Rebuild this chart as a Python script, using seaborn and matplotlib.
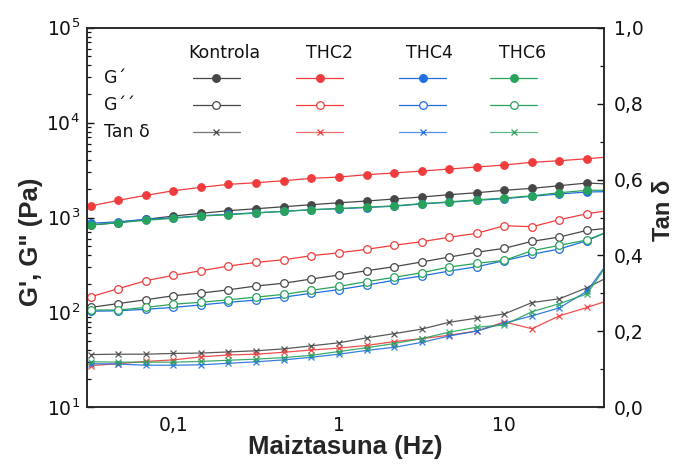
import numpy as np
import pandas as pd
import seaborn as sns
import matplotlib
matplotlib.use("Agg")
import matplotlib.pyplot as plt
from matplotlib.ticker import FixedLocator, FuncFormatter, LogLocator, MultipleLocator, NullFormatter

# Frequency sweep (Hz), six points per decade
freq = [0.0316, 0.0464, 0.0681, 0.1, 0.147, 0.215, 0.316, 0.464, 0.681, 1.0,
        1.47, 2.15, 3.16, 4.64, 6.81, 10.0, 14.7, 21.5, 31.6, 46.4]

samples = ["Kontrola", "THC2", "THC4", "THC6"]
colors = ["#474747", "#f03c3c", "#1f6fe0", "#27a35c"]

# Storage modulus G' (Pa)
g1_kontrola = [834, 882, 957, 1037, 1107, 1180, 1238, 1300, 1365, 1430,
               1492, 1567, 1645, 1739, 1825, 1935, 2031, 2164, 2310, 2240]
g1_thc2 = [1321, 1518, 1713, 1916, 2080, 2237, 2326, 2443, 2589, 2670,
           2828, 2944, 3090, 3244, 3406, 3575, 3818, 3968, 4167, 4400]
g1_thc4 = [869, 903, 957, 995, 1045, 1081, 1124, 1162, 1208, 1238,
           1275, 1315, 1390, 1448, 1518, 1582, 1675, 1770, 1858, 1880]
g1_thc6 = [834, 882, 935, 981, 1037, 1071, 1115, 1162, 1208, 1245,
           1285, 1327, 1402, 1462, 1536, 1602, 1695, 1825, 1935, 1940]

# Loss modulus G'' (Pa)
g2_kontrola = [113, 124, 136, 150, 160, 173, 190, 203, 225, 248,
               275, 303, 340, 383, 430, 474, 561, 623, 733, 782]
g2_thc2 = [146, 178, 216, 246, 275, 308, 337, 359, 396, 425,
           462, 510, 556, 619, 682, 820, 800, 948, 1097, 1210]
g2_thc4 = [103, 104, 108, 113, 120, 128, 135, 145, 159, 174,
           194, 218, 242, 273, 303, 351, 410, 466, 570, 760]
g2_thc6 = [106, 106, 113, 122, 128, 136, 145, 155, 171, 188,
           211, 234, 262, 301, 329, 354, 447, 509, 580, 760]

# Loss tangent
tan_kontrola = [0.139, 0.140, 0.140, 0.142, 0.143, 0.146, 0.149, 0.154, 0.162, 0.170,
                0.183, 0.194, 0.206, 0.224, 0.235, 0.246, 0.276, 0.286, 0.315, 0.352]
tan_thc2 = [0.110, 0.115, 0.121, 0.125, 0.133, 0.138, 0.140, 0.145, 0.151, 0.156,
            0.163, 0.173, 0.181, 0.190, 0.201, 0.225, 0.207, 0.241, 0.263, 0.287]
tan_thc4 = [0.115, 0.114, 0.111, 0.111, 0.112, 0.116, 0.120, 0.125, 0.132, 0.140,
            0.150, 0.158, 0.171, 0.188, 0.201, 0.222, 0.241, 0.262, 0.306, 0.406]
tan_thc6 = [0.120, 0.119, 0.119, 0.119, 0.121, 0.124, 0.127, 0.131, 0.137, 0.147,
            0.157, 0.168, 0.181, 0.198, 0.211, 0.217, 0.252, 0.273, 0.299, 0.404]

g1 = [g1_kontrola, g1_thc2, g1_thc4, g1_thc6]
g2 = [g2_kontrola, g2_thc2, g2_thc4, g2_thc6]
tan = [tan_kontrola, tan_thc2, tan_thc4, tan_thc6]

sns.set_style("white")
plt.rcParams["font.family"] = ["DejaVu Sans"]
plt.rcParams["axes.linewidth"] = 1.1

fig = plt.figure(figsize=(6.79, 4.65), dpi=100)
ax = fig.add_axes([0.128, 0.124, 0.7615, 0.8164])
ax2 = ax.twinx()

lw = 0.9
for name, c, a, b in zip(samples, colors, g1, g2):
    sns.lineplot(x=freq, y=a, ax=ax, color=c, lw=lw, marker="o", ms=5.5,
                 mec=c, mfc=c, mew=0.8, estimator=None, sort=False)
    sns.lineplot(x=freq, y=b, ax=ax, color=c, lw=lw, marker="o", ms=5.5,
                 mec=c, mfc="white", mew=0.9, estimator=None, sort=False)
for name, c, t in zip(samples, colors, tan):
    sns.lineplot(x=freq, y=t, ax=ax2, color=c, lw=lw, marker="x", ms=5,
                 mec=c, mew=0.9, alpha=0.9, estimator=None, sort=False)

ax.set_xscale("log")
ax.set_yscale("log")
ax.set_xlim(0.03, 40)
ax.set_ylim(10, 1e5)
ax2.set_ylim(0, 1.0)

comma = lambda v, pos: f"{v:g}".replace(".", ",")
ax.xaxis.set_major_locator(FixedLocator([0.1, 1, 10]))
ax.xaxis.set_major_formatter(FuncFormatter(comma))
ax.xaxis.set_minor_locator(LogLocator(base=10, subs=np.arange(2, 10)))
ax.xaxis.set_minor_formatter(NullFormatter())
ax.yaxis.set_major_locator(LogLocator(base=10, numticks=10))
ax.yaxis.set_minor_locator(LogLocator(base=10, subs=np.arange(2, 10), numticks=20))
ax.yaxis.set_minor_formatter(NullFormatter())

ax2.yaxis.set_major_locator(MultipleLocator(0.2))
ax2.yaxis.set_minor_locator(MultipleLocator(0.1))
ax2.yaxis.set_major_formatter(FuncFormatter(lambda v, pos: f"{v:.1f}".replace(".", ",")))

for a in (ax, ax2):
    a.tick_params(which="both", direction="in", labelsize=13.5, colors="#111111")
    a.tick_params(which="major", length=5, width=1.0)
    a.tick_params(which="minor", length=3, width=0.9)
ax.tick_params(axis="x", which="both", top=False, pad=6)
ax.tick_params(axis="y", which="both", right=False, pad=5)
ax2.tick_params(axis="y", which="both", left=False, right=True, pad=7)
for sp in ax2.spines.values():
    sp.set_linewidth(1.1)

label_font = dict(family="Liberation Sans", weight="bold", size=18.5)
ax.set_xlabel("Maiztasuna (Hz)", **label_font, labelpad=0)
ax.set_ylabel("G', G\" (Pa)", **label_font)
ax.yaxis.set_label_coords(-0.084, 0.437)
ax2.set_ylabel("Tan δ", family="Liberation Sans", weight="bold", size=17)
ax2.yaxis.set_label_coords(1.093, 0.52)

# Table-style legend inside the plot
key_x = [0.2503, 0.4507, 0.6499, 0.8259]
head_x = [0.265, 0.470, 0.663, 0.843]
row_y = [0.867, 0.797, 0.726]
half = 0.0455
for name, c, kx, hx in zip(samples, colors, key_x, head_x):
    ax.text(hx, 0.934, name, transform=ax.transAxes, ha="center", va="center",
            fontsize=12.5, color="#111111")
    styles = [dict(marker="o", mfc=c, ms=5.5, alpha=1.0),
              dict(marker="o", mfc="white", ms=5.5, alpha=1.0),
              dict(marker="x", mfc=c, ms=5, alpha=0.75)]
    for ry, st in zip(row_y, styles):
        ax.plot([kx - half, kx + half], [ry, ry], transform=ax.transAxes,
                color=c, lw=lw, alpha=st["alpha"], clip_on=False)
        ax.plot([kx], [ry], transform=ax.transAxes, color=c, marker=st["marker"],
                ms=st["ms"], mfc=st["mfc"], mec=c, mew=0.9, clip_on=False)
for txt, ry in zip(["G´", "G´´", "Tan δ"], row_y):
    ax.text(0.034, ry, txt, transform=ax.transAxes, ha="left", va="center",
            fontsize=12.5, color="#111111")

fig.savefig("out.png", dpi=100)
